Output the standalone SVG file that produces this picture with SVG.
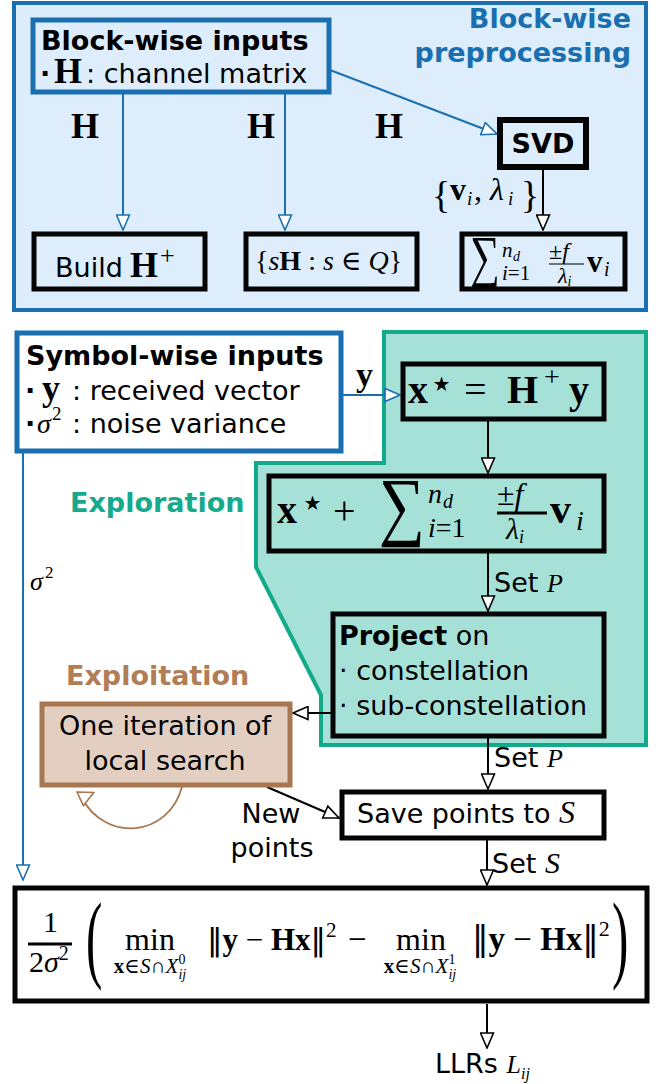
<svg xmlns="http://www.w3.org/2000/svg" width="665" height="1084" viewBox="0 0 665 1084">
<defs>
<style>
.s{font-family:"DejaVu Sans",sans-serif;font-size:27px;font-weight:normal;fill:#000}
.sb{font-family:"DejaVu Sans",sans-serif;font-size:27px;font-weight:bold}
.m{font-family:"Liberation Serif","DejaVu Serif",serif;fill:#000}
.bf{font-weight:bold}
.it{font-style:italic}
.st{font-family:"DejaVu Sans",sans-serif}
.nm{font-family:"DejaVu Sans",sans-serif;font-weight:normal}
.box{stroke:#050505;stroke-width:5}
.bbox{stroke:#1a6fb0;stroke-width:5}
.cb{fill:none;stroke:#000;stroke-width:2}
.cu{fill:none;stroke:#1a6fb0;stroke-width:2}
.cbr{fill:none;stroke:#a8774f;stroke-width:1.8}
</style>
<marker id="ab" viewBox="0 0 17 15" refX="16" refY="7.5" markerWidth="17" markerHeight="15" markerUnits="userSpaceOnUse" orient="auto"><path d="M1,1 L16,7.5 L1,14 z" fill="#fff" stroke="#000" stroke-width="1.6"/></marker>
<marker id="au" viewBox="0 0 17 15" refX="16" refY="7.5" markerWidth="17" markerHeight="15" markerUnits="userSpaceOnUse" orient="auto"><path d="M1,1 L16,7.5 L1,14 z" fill="#fff" stroke="#1a6fb0" stroke-width="1.6"/></marker>
<marker id="abr" viewBox="0 0 17 17" refX="3" refY="8.5" markerWidth="17" markerHeight="17" markerUnits="userSpaceOnUse" orient="-25"><path d="M1,1 L16,8.5 L1,16 z" fill="#fff" stroke="#a8774f" stroke-width="1.6"/></marker>
</defs>
<rect width="665" height="1084" fill="#fff"/>

<g id="preprocessing-region">
<rect x="14" y="3" width="632" height="307" fill="#ddedfb" stroke="#1a6fb0" stroke-width="4"/>
<text class="sb" text-anchor="end" style="fill:#1a6fb0"><tspan x="631" y="28">Block-wise</tspan><tspan x="631" y="62">preprocessing</tspan></text>
</g>

<g id="exploration-region">
<path d="M384,332 H646 V745 H321 V695 L256,567 V463 H384 Z" fill="#a6e1d8" stroke="#13aa8c" stroke-width="4"/>
<text class="sb" x="70" y="512" style="fill:#17a98b">Exploration</text>
</g>

<g id="connectors">
<path class="cu" d="M123,93 V230" marker-end="url(#au)"/>
<path class="cu" d="M285,93 V230" marker-end="url(#au)"/>
<path class="cu" d="M330,70 L497,134" marker-end="url(#au)"/>
<path class="cb" d="M543,169 V230" marker-end="url(#ab)"/>
<path class="cu" d="M342,395 H400" marker-end="url(#au)"/>
<path class="cb" d="M488,421 V473" marker-end="url(#ab)"/>
<path class="cb" d="M488,553 V611" marker-end="url(#ab)"/>
<path class="cb" d="M331,713 H293" marker-end="url(#ab)"/>
<path class="cbr" d="M182,787 C168,838 105,842 82,798" marker-end="url(#abr)"/>
<path class="cb" d="M488,738 V789" marker-end="url(#ab)"/>
<path class="cb" d="M267,787 L339,818" marker-end="url(#ab)"/>
<path class="cb" d="M487,840 V885" marker-end="url(#ab)"/>
<path class="cu" d="M23,453 V880" marker-end="url(#au)"/>
<path class="cb" d="M487,1004 V1048" marker-end="url(#ab)"/>
<text class="m bf" font-size="36" text-anchor="middle" x="85" y="138">H</text>
<text class="m bf" font-size="36" text-anchor="middle" x="261" y="138">H</text>
<text class="m bf" font-size="36" text-anchor="middle" x="389" y="138">H</text>
<text class="m"><tspan font-size="38" x="432" y="208">{</tspan><tspan class="bf" font-size="32" x="450" y="200">v</tspan><tspan class="it" font-size="19" x="467" y="205">i</tspan><tspan font-size="32" x="474" y="200">,</tspan><tspan class="it" font-size="32" x="490" y="200">λ</tspan><tspan class="it" font-size="19" x="508" y="205">i</tspan><tspan font-size="38" x="521" y="208">}</tspan></text>
<text class="m bf" font-size="34" x="356" y="386">y</text>
<text class="m"><tspan class="it" font-size="26" x="30" y="590">σ</tspan><tspan font-size="17" x="45" y="578">2</tspan></text>
<text class="s" font-size="26" x="494" y="592">Set <tspan class="m it" font-size="26">P</tspan></text>
<text class="s" font-size="26" x="494" y="767">Set <tspan class="m it" font-size="26">P</tspan></text>
<text class="s" font-size="26" x="492" y="873">Set <tspan class="m it" font-size="30">S</tspan></text>
<text class="s" text-anchor="middle"><tspan x="271" y="823">New</tspan><tspan x="272" y="857">points</tspan></text>
<text class="s" x="435" y="1073">LLRs <tspan class="m it" font-size="26">L</tspan><tspan class="m it" font-size="16" dy="6">ij</tspan></text>
</g>

<g id="block-inputs">
<rect x="33" y="20" width="296" height="72" fill="#ddedfb" class="bbox"/>
<text class="sb"><tspan x="41" y="50">Block-wise inputs</tspan><tspan x="40" y="83">·</tspan><tspan class="m" font-size="36" x="54" y="83">H</tspan><tspan class="s" x="86" y="83">: channel matrix</tspan></text>
</g>

<g id="svd">
<rect x="500" y="120" width="86" height="47" fill="#ddedfb" stroke="#050505" stroke-width="6"/>
<text class="sb" text-anchor="middle" x="543" y="153">SVD</text>
</g>

<g id="build-hplus">
<rect x="34" y="234" width="171" height="55" fill="#ddedfb" class="box"/>
<text class="s" x="55" y="277">Build<tspan class="m bf" font-size="36" x="130">H</tspan><tspan class="m" font-size="26" x="160" y="264">+</tspan></text>
</g>

<g id="scaled-h">
<rect x="246" y="234" width="171" height="55" fill="#ddedfb" class="box"/>
<text class="m" font-size="28" x="255" y="270">{<tspan class="it">s</tspan><tspan class="bf">H</tspan> : <tspan class="it">s</tspan> ∈ <tspan class="it">Q</tspan>}</text>
</g>

<g id="sum-directions">
<rect x="462" y="234" width="163" height="55" fill="#ddedfb" class="box"/>
<text class="m" font-size="58" transform="translate(470,276) scale(0.72,1)">∑</text>
<text class="m"><tspan class="it" font-size="21" x="502" y="257">n</tspan><tspan class="it" font-size="14" x="513" y="261">d</tspan><tspan class="it" font-size="21" x="502" y="280">i</tspan><tspan font-size="21">=1</tspan><tspan font-size="24" x="549" y="259">±</tspan><tspan class="it" font-size="24">f</tspan><tspan class="it" font-size="22" x="558" y="283">λ</tspan><tspan class="it" font-size="14" dy="3">i</tspan><tspan class="bf" font-size="31" x="587" y="272">v</tspan><tspan class="it" font-size="20" x="604" y="276">i</tspan></text>
<line x1="549" y1="264" x2="584" y2="264" stroke="#000" stroke-width="1.2"/>
</g>

<g id="symbol-inputs">
<rect x="17" y="333" width="324" height="118" fill="#fff" class="bbox"/>
<text class="sb"><tspan x="26" y="365">Symbol-wise inputs</tspan><tspan x="25" y="400">·</tspan><tspan class="m" font-size="36" x="42" y="400">y</tspan><tspan class="s" x="72" y="400">: received vector</tspan><tspan x="25" y="433">·</tspan><tspan class="m it" font-weight="normal" font-size="28" x="37" y="433">σ</tspan><tspan class="m" font-weight="normal" font-size="19" x="52" y="420">2</tspan><tspan class="s" x="72" y="433">: noise variance</tspan></text>
</g>

<g id="zero-forcing">
<rect x="403" y="364" width="201" height="55" fill="#a6e1d8" class="box"/>
<text class="m" font-size="40" y="403"><tspan class="bf" x="408">x</tspan><tspan class="st" font-size="40" x="429" y="397">⋆</tspan><tspan x="464" y="403">=</tspan><tspan class="bf" x="507">H</tspan><tspan font-size="28" x="544" y="386">+</tspan><tspan class="bf" x="569" y="403">y</tspan></text>
</g>

<g id="perturbation">
<rect x="269" y="476" width="335" height="75" fill="#a6e1d8" class="box"/>
<text class="m" font-size="40" x="333" y="524">+</text>
<text class="m" font-size="40"><tspan class="bf" x="277" y="523">x</tspan><tspan class="st" x="300" y="516">⋆</tspan></text>
<text class="m" font-size="76" transform="translate(379,531) scale(0.85,1)">∑</text>
<text class="m"><tspan class="it" font-size="28" x="428" y="503">n</tspan><tspan class="it" font-size="20" x="443" y="508">d</tspan><tspan class="it" font-size="28" x="428" y="537">i</tspan><tspan font-size="28">=1</tspan><tspan font-size="32" x="497" y="505">±</tspan><tspan class="it" font-size="32">f</tspan><tspan class="it" font-size="30" x="506" y="539">λ</tspan><tspan class="it" font-size="18" dy="4">i</tspan><tspan class="bf" font-size="42" x="550" y="523">v</tspan><tspan class="it" font-size="28" x="576" y="530">i</tspan></text>
<line x1="497" y1="513" x2="547" y2="513" stroke="#000" stroke-width="3"/>
</g>

<g id="project">
<rect x="333" y="614" width="271" height="122" fill="#a6e1d8" class="box"/>
<text class="s"><tspan x="339" y="645" font-weight="bold">Project</tspan><tspan> on</tspan><tspan x="339" y="680">· constellation</tspan><tspan x="339" y="715">· sub-constellation</tspan></text>
</g>

<g id="local-search">
<text class="sb" x="66" y="685" style="fill:#b07d56">Exploitation</text>
<rect x="42" y="704" width="248" height="81" fill="#e2cfc1" stroke="#a8774f" stroke-width="5"/>
<text class="s" text-anchor="middle"><tspan x="165" y="735">One iteration of</tspan><tspan x="165" y="770">local search</tspan></text>
</g>

<g id="save-points">
<rect x="342" y="792" width="262" height="46" fill="#fff" class="box"/>
<text class="s" x="357" y="823">Save points to <tspan class="m it" font-size="32">S</tspan></text>
</g>

<g id="llr">
<rect x="15" y="888" width="632" height="113" fill="#fff" class="box"/>
<text class="m" font-size="30"><tspan x="43" y="932">1</tspan><tspan x="29" y="972">2</tspan><tspan class="it">σ</tspan><tspan font-size="20" dy="-12">2</tspan></text>
<line x1="28" y1="944" x2="72" y2="944" stroke="#000" stroke-width="3"/>
<text class="m" font-size="98" transform="translate(86,970) scale(0.5,1)">(</text>
<text class="m" font-size="98" transform="translate(612,970) scale(0.5,1)">)</text>
<text class="m" font-size="32" text-anchor="middle" x="150" y="950">min</text>
<text class="m" font-size="21" text-anchor="middle" x="150" y="973"><tspan class="bf">x</tspan>∈<tspan class="it">S</tspan>∩<tspan class="it">X</tspan><tspan font-size="14" dy="-9">0</tspan><tspan class="it" font-size="14" dx="-7" dy="15">ij</tspan></text>
<text class="m" font-size="31" x="207" y="950"><tspan class="nm">‖</tspan><tspan class="bf">y</tspan> − <tspan class="bf">Hx</tspan><tspan class="nm">‖</tspan><tspan font-size="21" dy="-13">2</tspan></text>
<text class="m" font-size="33" x="348" y="950">−</text>
<text class="m" font-size="32" text-anchor="middle" x="421" y="950">min</text>
<text class="m" font-size="21" text-anchor="middle" x="420" y="973"><tspan class="bf">x</tspan>∈<tspan class="it">S</tspan>∩<tspan class="it">X</tspan><tspan font-size="14" dy="-9">1</tspan><tspan class="it" font-size="14" dx="-7" dy="15">ij</tspan></text>
<text class="m" font-size="33" x="472" y="950"><tspan class="nm">‖</tspan><tspan class="bf">y</tspan> − <tspan class="bf">Hx</tspan><tspan class="nm">‖</tspan><tspan font-size="22" dy="-14">2</tspan></text>
</g>
</svg>
